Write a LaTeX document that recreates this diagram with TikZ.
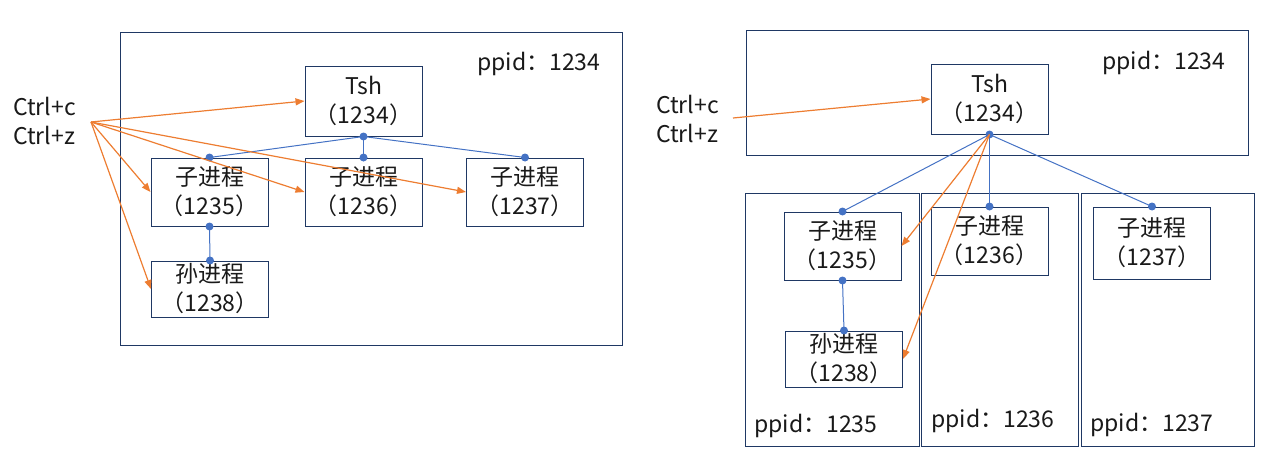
\documentclass[tikz,border=0pt]{standalone}
\usepackage{fontspec}
\setmainfont{Noto Sans CJK SC}
\usetikzlibrary{arrows.meta}

\definecolor{framecol}{HTML}{1F3864}
\definecolor{linkcol}{HTML}{4472C4}
\definecolor{sigcol}{HTML}{ED7D31}

\begin{document}
\begin{tikzpicture}[x=1pt, y=-1pt,
    every node/.append style={font=\fontsize{23}{29}\selectfont, inner sep=0pt, text=black!90},
    frame/.style={draw=framecol, line width=1pt},
    proc/.style={frame, align=center, minimum width=117pt},
    link/.style={draw=linkcol, line width=1pt},
    sig/.style={draw=sigcol, line width=1.2pt, -{Triangle[length=9pt,width=7pt]}, fill=none},
    dot/.style={fill=linkcol}]
  \useasboundingbox (0,0) rectangle (1271,463);

  % --- left: everything in one group
  \node (lframe) [frame, minimum width=502pt, minimum height=313pt] at (371,188.5) {};
  \node (lppid) [anchor=west] at (477,64) {ppid：1234};
  \node (lsig) [anchor=west, align=left] at (13,121) {Ctrl+c\\Ctrl+z};
  \coordinate (lsrc) at (91,122);

  \node (ltsh) [proc, minimum height=70pt] at (363.5,101) {Tsh\\（1234）};
  \node (lc1) [proc, minimum height=68pt] at (209.5,192) {子进程\\（1235）};
  \node (lc2) [proc, minimum height=68pt] at (363.5,192) {子进程\\（1236）};
  \node (lc3) [proc, minimum height=68pt] at (525,192) {子进程\\（1237）};
  \node (lg1) [proc, minimum height=56pt] at (210,289) {孙进程\\（1238）};

  \foreach \to in {lc1,lc2,lc3}
    \draw [link] (ltsh.south) -- (\to.north);
  \draw [link] (lc1.south) -- (lg1.north);
  \foreach \at in {ltsh.south,lc1.north,lc2.north,lc3.north,lc1.south,lg1.north}
    \fill [dot] (\at) circle (4pt);

  \foreach \to in {ltsh,lc1,lc2,lc3,lg1}
    \draw [sig] (lsrc) -- (\to.west);

  % --- right: each process in its own group
  \node (rframe) [frame, minimum width=502pt, minimum height=125pt] at (997,92.5) {};
  \node (rframe1) [frame, minimum width=174pt, minimum height=253pt] at (832,319.5) {};
  \node (rframe2) [frame, minimum width=157pt, minimum height=253pt] at (999.5,319.5) {};
  \node (rframe3) [frame, minimum width=173pt, minimum height=253pt] at (1167.5,319.5) {};
  \node (rppid) [anchor=west] at (1102,63) {ppid：1234};
  \node (rppid1) [anchor=west] at (754,426) {ppid：1235};
  \node (rppid2) [anchor=west] at (931,421) {ppid：1236};
  \node (rppid3) [anchor=west] at (1090,425) {ppid：1237};
  \node (rsig) [anchor=west, align=left] at (656,118.5) {Ctrl+c\\Ctrl+z};
  \coordinate (rsrc) at (733,118);

  \node (rtsh) [proc, minimum height=70pt] at (989.5,99) {Tsh\\（1234）};
  \node (rc1) [proc, minimum height=68pt] at (842.5,246) {子进程\\（1235）};
  \node (rc2) [proc, minimum height=68pt] at (989.5,241) {子进程\\（1236）};
  \node (rc3) [proc, minimum height=72pt] at (1152,243) {子进程\\（1237）};
  \node (rg1) [proc, minimum height=56pt] at (844,359) {孙进程\\（1238）};

  \foreach \to in {rc1,rc2,rc3}
    \draw [link] (rtsh.south) -- (\to.north);
  \draw [link] (rc1.south) -- (rg1.north);
  \foreach \at in {rtsh.south,rc1.north,rc2.north,rc3.north,rc1.south,rg1.north}
    \fill [dot] (\at) circle (4pt);

  \draw [sig] (rsrc) -- (rtsh.west);
  \draw [sig] (rtsh.south) -- (rc1.east);
  \draw [sig] (rtsh.south) -- (rg1.east);
\end{tikzpicture}
\end{document}
